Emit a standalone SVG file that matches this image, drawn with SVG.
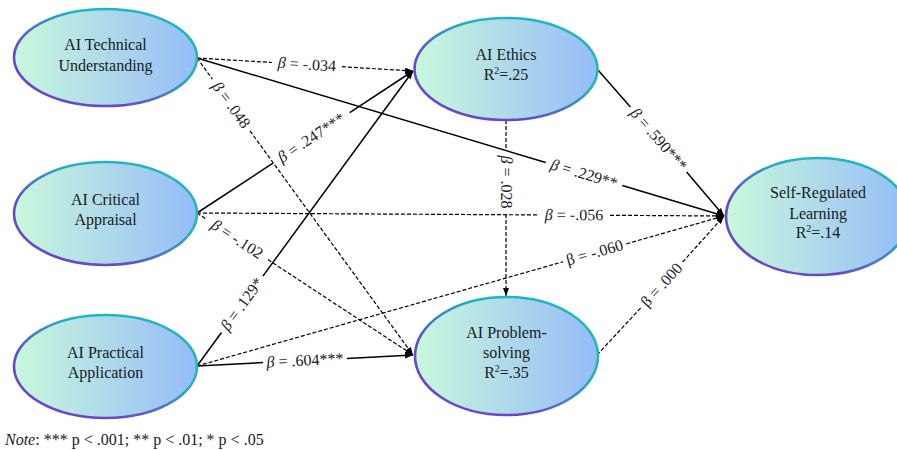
<svg xmlns="http://www.w3.org/2000/svg" width="897" height="450" viewBox="0 0 897 450">
<defs>
<linearGradient id="fillG" x1="0" y1="0" x2="1" y2="0">
<stop offset="0" stop-color="#c8f8dc"/>
<stop offset="1" stop-color="#96bcf8"/>
</linearGradient>
<linearGradient id="strokeG" x1="0" y1="1" x2="1" y2="0">
<stop offset="0.3" stop-color="#6a46c8"/>
<stop offset="0.65" stop-color="#1fb6c2"/>
</linearGradient>
<marker id="arr" markerUnits="userSpaceOnUse" markerWidth="9" markerHeight="7" refX="8" refY="3" orient="auto">
<path d="M0,0 L8,3 L0,6 z" fill="#000"/>
</marker>
<style>
.node ellipse{fill:url(#fillG);stroke:url(#strokeG);stroke-width:2.6}
.node text{font-family:"Liberation Serif","Times New Roman",serif;font-size:16px;fill:#1a1a1a;text-anchor:middle}
.solid{fill:none;stroke:#000;stroke-width:1.5}
.dash{fill:none;stroke:#000;stroke-width:1.2;stroke-dasharray:4 2}
.end{marker-end:url(#arr)}
.lbl{font-family:"Liberation Serif","Times New Roman",serif;font-size:16px;fill:#1a1a1a;text-anchor:middle}
.b{font-style:italic}
.note{font-family:"Liberation Serif","Times New Roman",serif;font-size:16px;fill:#1a1a1a}
</style>
</defs>
<rect width="897" height="450" fill="#fff"/>

<g id="connectors">
<path class="dash end" d="M197,58 L272.1,62.5 M341.9,66.7 L413,71"/>
<path class="solid end" d="M197,58 L545.7,162.5 M622.3,185.5 L724,216"/>
<path class="dash end" d="M197,58 L212.4,79.1 M250,130.9 L413,355"/>
<path class="solid end" d="M197,213 L272.9,163.2 M349.7,112.6 L413,71"/>
<path class="dash end" d="M197,213 L538,214.9 M610,215.3 L724,216"/>
<path class="dash end" d="M197,213 L206.1,219 M267.9,259.6 L413,355"/>
<path class="solid end" d="M197,366 L221.5,332.5 M262.9,276.1 L413,71"/>
<path class="dash end" d="M197,366 L563,261.8 M626.4,243.8 L724,216"/>
<path class="solid end" d="M197,366 L263.1,362.6 M346.9,358.4 L413,355"/>
<path class="dash end" d="M506,120 L506,150 M506,214 L506,296"/>
<path class="solid end" d="M598,70 L630.4,107 M686.6,172 L724,216"/>
<path class="dash end" d="M597,355 L640.8,307.9 M682.6,262.1 L724,216"/>

<text class="lbl" transform="translate(307,64.6) rotate(3.44)" y="5"><tspan class="b">β</tspan> = -.034</text>
<text class="lbl" transform="translate(584,174) rotate(16.69)" y="5"><tspan class="b">β</tspan> = .229**</text>
<text class="lbl" transform="translate(231.2,105) rotate(53.97)" y="5"><tspan class="b">β</tspan> = .048</text>
<text class="lbl" transform="translate(311.3,137.9) rotate(-33.32)" y="5"><tspan class="b">β</tspan> = .247***</text>
<text class="lbl" transform="translate(574,215.1) rotate(0.33)" y="5"><tspan class="b">β</tspan> = -.056</text>
<text class="lbl" transform="translate(237,239.3) rotate(33.32)" y="5"><tspan class="b">β</tspan> = -.102</text>
<text class="lbl" transform="translate(242.2,304.3) rotate(-53.79)" y="5"><tspan class="b">β</tspan> = .129*</text>
<text class="lbl" transform="translate(594.7,252.8) rotate(-15.89)" y="5">β = -.060</text>
<text class="lbl" transform="translate(305,360.5) rotate(-2.92)" y="5"><tspan class="b">β</tspan> = .604***</text>
<text class="lbl" transform="translate(506,182) rotate(90)" y="5"><tspan class="b">β</tspan> = .028</text>
<text class="lbl" transform="translate(658.5,139.5) rotate(49.22)" y="5"><tspan class="b">β</tspan> = .590***</text>
<text class="lbl" transform="translate(661.7,285) rotate(-47.61)" y="5">β = .000</text>
</g>

<g id="tech" class="node">
<ellipse cx="105.5" cy="57.5" rx="91.5" ry="48.5"/>
<text x="105.5" y="50">AI Technical</text>
<text x="105.5" y="71">Understanding</text>
</g>
<g id="critical" class="node">
<ellipse cx="105.5" cy="213.5" rx="91.5" ry="51.5"/>
<text x="105.5" y="205">AI Critical</text>
<text x="105.5" y="225">Appraisal</text>
</g>
<g id="practical" class="node">
<ellipse cx="105.5" cy="366.5" rx="91.5" ry="51.5"/>
<text x="105.5" y="358">AI Practical</text>
<text x="105.5" y="378">Application</text>
</g>
<g id="ethics" class="node">
<ellipse cx="506" cy="69" rx="91.5" ry="51"/>
<text x="506" y="60">AI Ethics</text>
<text x="506" y="80">R<tspan font-size="10" dy="-6">2</tspan><tspan dy="6">=.25</tspan></text>
</g>
<g id="problem" class="node">
<ellipse cx="506.5" cy="356" rx="91.5" ry="59"/>
<text x="506.5" y="338">AI Problem-</text>
<text x="506.5" y="358">solving</text>
<text x="506.5" y="378">R<tspan font-size="10" dy="-6">2</tspan><tspan dy="6">=.35</tspan></text>
</g>
<g id="srl" class="node">
<ellipse cx="817.5" cy="216.5" rx="91.5" ry="58.5"/>
<text x="818" y="198">Self-Regulated</text>
<text x="818" y="219">Learning</text>
<text x="818" y="238">R<tspan font-size="10" dy="-6">2</tspan><tspan dy="6">=.14</tspan></text>
</g>

<text class="note" x="5" y="445"><tspan font-style="italic">Note</tspan>: *** p &lt; .001; ** p &lt; .01; * p &lt; .05</text>
</svg>
